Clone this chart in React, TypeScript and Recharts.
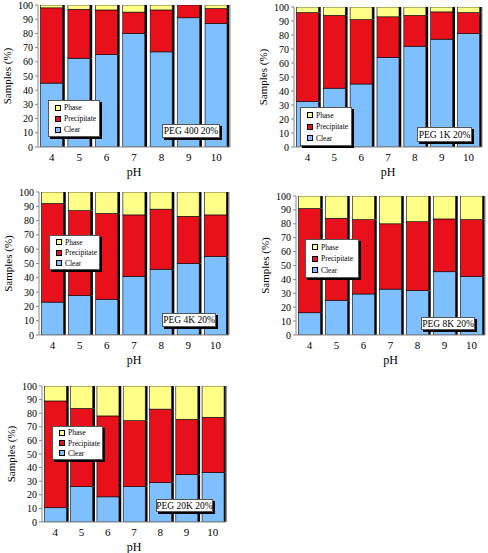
import React from 'react';
import { BarChart, Bar, XAxis, YAxis, Legend, Label } from 'recharts';

const PH_LABELS = ['4', '5', '6', '7', '8', '9', '10'];
const Y_TICKS = [0, 10, 20, 30, 40, 50, 60, 70, 80, 90, 100];
const LEGEND_ORDER = ['Phase', 'Precipitate', 'Clear'];

const PEG400_CLEAR = [45, 62.5, 65, 80, 67, 91, 87];
const PEG400_PRECIP = [53, 34.5, 31.5, 15, 29.5, 9, 10.5];
const PEG400_PHASE = [2, 3, 3.5, 5, 3.5, 0, 2.5];

const PEG1K_CLEAR = [32.5, 42, 45, 64, 72, 77, 81];
const PEG1K_PRECIP = [63.5, 52, 46, 29, 22, 19.5, 15];
const PEG1K_PHASE = [4, 6, 9, 7, 6, 3.5, 4];

const PEG4K_CLEAR = [23, 27.5, 25, 41, 46, 50, 55];
const PEG4K_PRECIP = [69, 59.5, 60, 43, 42, 33, 29];
const PEG4K_PHASE = [8, 13, 15, 16, 12, 17, 16];

const PEG8K_CLEAR = [16, 25, 29.5, 33, 32, 45.5, 42];
const PEG8K_PRECIP = [75, 59, 53.5, 47, 49.5, 38, 41];
const PEG8K_PHASE = [9, 16, 17, 20, 18.5, 16.5, 17];

const PEG20K_CLEAR = [10.5, 26, 18.5, 26, 29, 35, 36.5];
const PEG20K_PRECIP = [78.5, 57.5, 59.5, 48.5, 54, 40.5, 40.5];
const PEG20K_PHASE = [11, 16.5, 22, 25.5, 17, 24.5, 23];

const FONT = "'Liberation Serif', 'Times New Roman', Times, serif";
const C_CLEAR = '#7EBFFF';
const C_PRECIP = '#E8111B';
const C_PHASE = '#FFFF88';

const buildRows = (clear: number[], precip: number[], phase: number[]) =>
  PH_LABELS.map((ph, i) => ({ ph, clear: clear[i], precip: precip[i], phase: phase[i] }));

const segShape = (props: any) => {
  const { x, y, width, height, fill } = props;
  if (!height || height <= 0.01) return <g />;
  return (
    <g>
      <rect x={x + width} y={y} width={2.3} height={height} fill="#000" />
      <rect x={x} y={y} width={width} height={height} fill={fill} stroke="#000" strokeWidth={0.6} />
    </g>
  );
};

const LegendBox = (props: any) => {
  const payload = (props.payload || []).slice();
  payload.sort((a: any, b: any) => LEGEND_ORDER.indexOf(a.value) - LEGEND_ORDER.indexOf(b.value));
  return (
    <div
      style={{
        width: '100%',
        height: '100%',
        boxSizing: 'border-box',
        background: '#fff',
        border: '1px solid #555',
        boxShadow: '2px 2px 0 #000',
        fontFamily: FONT,
        fontSize: 7.5,
        paddingLeft: 6,
        display: 'flex',
        flexDirection: 'column',
        justifyContent: 'space-evenly',
      }}
    >
      {payload.map((p: any) => (
        <div key={p.value} style={{ display: 'flex', alignItems: 'center', lineHeight: '9px' }}>
          <span
            style={{
              display: 'inline-block',
              width: 4,
              height: 4,
              background: p.color,
              border: '0.6px solid #000',
              marginRight: 3,
            }}
          />
          <span>{p.value}</span>
        </div>
      ))}
    </div>
  );
};

type PanelProps = {
  plot: [number, number, number, number];
  clear: number[];
  precip: number[];
  phase: number[];
  legendBox: [number, number, number, number];
  tag: string;
  tagBox: [number, number, number, number];
};

const Panel = ({ plot, clear, precip, phase, legendBox, tag, tagBox }: PanelProps) => {
  const [x0, y0, x1, y1] = plot;
  const yAxisW = 40;
  const top = 5;
  const right = 3;
  const xAxisH = 35;
  const left = x0 - yAxisW;
  const ctop = y0 - top;
  const width = x1 - x0 + yAxisW + right + 1;
  const height = y1 - y0 + top + xAxisH;
  const rows = buildRows(clear, precip, phase);

  const yLabel = (p: any) => {
    const vb = p.viewBox || {};
    const cx = vb.x + 9;
    const cy = vb.y + vb.height / 2;
    return (
      <text
        x={cx}
        y={cy}
        transform={`rotate(-90, ${cx}, ${cy})`}
        textAnchor="middle"
        dominantBaseline="central"
        style={{ fontFamily: FONT, fontSize: 11 }}
        fill="#000"
      >
        Samples (%)
      </text>
    );
  };
  const xLabel = (p: any) => {
    const vb = p.viewBox || {};
    return (
      <text
        x={vb.x + vb.width / 2}
        y={vb.y + 25}
        textAnchor="middle"
        dominantBaseline="central"
        style={{ fontFamily: FONT, fontSize: 12 }}
        fill="#000"
      >
        pH
      </text>
    );
  };

  return (
    <div style={{ position: 'absolute', left, top: ctop, width, height, fontFamily: FONT }}>
      <BarChart
        width={width}
        height={height}
        data={rows}
        margin={{ top, right, bottom: 0, left: 0 }}
        barCategoryGap="9%"
        style={{ fontFamily: FONT }}
      >
        <XAxis
          dataKey="ph"
          height={xAxisH}
          tickLine={false}
          tickSize={0}
          tickMargin={6}
          axisLine={{ stroke: '#888', strokeWidth: 1 }}
          tick={{ fontFamily: FONT, fontSize: 11, fill: '#000', style: { fontFamily: FONT } }}
          interval={0}
        >
          <Label content={xLabel} />
        </XAxis>
        <YAxis
          width={yAxisW}
          domain={[0, 100]}
          ticks={Y_TICKS}
          interval={0}
          tickSize={3}
          tickMargin={2}
          allowDataOverflow
          axisLine={{ stroke: '#888', strokeWidth: 1 }}
          tickLine={{ stroke: '#888' }}
          tick={{ fontFamily: FONT, fontSize: 10, fill: '#000', style: { fontFamily: FONT } }}
        >
          <Label content={yLabel} />
        </YAxis>
        <YAxis
          yAxisId="frame"
          orientation="right"
          width={1}
          tick={false}
          tickLine={false}
          domain={[0, 100]}
          axisLine={{ stroke: '#888', strokeWidth: 1 }}
        />
        <Legend
          layout="horizontal"
          verticalAlign="middle"
          content={<LegendBox />}
          wrapperStyle={{
            position: 'absolute',
            left: legendBox[0] - left,
            top: legendBox[1] - ctop,
            width: legendBox[2],
            height: legendBox[3],
          }}
        />
        <Bar dataKey="clear" name="Clear" stackId="s" fill={C_CLEAR} shape={segShape} isAnimationActive={false} />
        <Bar dataKey="precip" name="Precipitate" stackId="s" fill={C_PRECIP} shape={segShape} isAnimationActive={false} />
        <Bar dataKey="phase" name="Phase" stackId="s" fill={C_PHASE} shape={segShape} isAnimationActive={false} />
      </BarChart>
      <div
        style={{
          position: 'absolute',
          left: tagBox[0] - left,
          top: tagBox[1] - ctop,
          width: tagBox[2],
          height: tagBox[3],
          boxSizing: 'border-box',
          background: '#fff',
          border: '1px solid #555',
          boxShadow: '2px 2px 0 #000',
          fontFamily: FONT,
          fontSize: 9.5,
          display: 'flex',
          alignItems: 'center',
          justifyContent: 'center',
          whiteSpace: 'nowrap',
        }}
      >
        {tag}
      </div>
    </div>
  );
};

export default function App() {
  return (
    <div
      style={{
        position: 'absolute',
        left: 0,
        top: 0,
        width: 488,
        height: 553,
        overflow: 'hidden',
        background: '#fff',
        fontFamily: FONT,
      }}
    >
      <Panel
        plot={[38, 5, 230, 147]}
        clear={PEG400_CLEAR}
        precip={PEG400_PRECIP}
        phase={PEG400_PHASE}
        legendBox={[48, 100, 52, 37]}
        tag="PEG 400 20%"
        tagBox={[162, 124, 58, 14]}
      />
      <Panel
        plot={[294, 7, 482, 147]}
        clear={PEG1K_CLEAR}
        precip={PEG1K_PRECIP}
        phase={PEG1K_PHASE}
        legendBox={[300, 107, 52, 39]}
        tag="PEG 1K 20%"
        tagBox={[417, 127, 55, 15]}
      />
      <Panel
        plot={[39, 192, 229, 335]}
        clear={PEG4K_CLEAR}
        precip={PEG4K_PRECIP}
        phase={PEG4K_PHASE}
        legendBox={[49, 235, 51, 35]}
        tag="PEG 4K 20%"
        tagBox={[162, 313, 54, 14]}
      />
      <Panel
        plot={[296, 196, 485, 335]}
        clear={PEG8K_CLEAR}
        precip={PEG8K_PRECIP}
        phase={PEG8K_PHASE}
        legendBox={[305, 239, 54, 39]}
        tag="PEG 8K 20%"
        tagBox={[421, 317, 54, 13]}
      />
      <Panel
        plot={[42, 386, 226, 522]}
        clear={PEG20K_CLEAR}
        precip={PEG20K_PRECIP}
        phase={PEG20K_PHASE}
        legendBox={[52, 426, 51, 34]}
        tag="PEG 20K 20%"
        tagBox={[156, 499, 57, 13]}
      />
    </div>
  );
}
